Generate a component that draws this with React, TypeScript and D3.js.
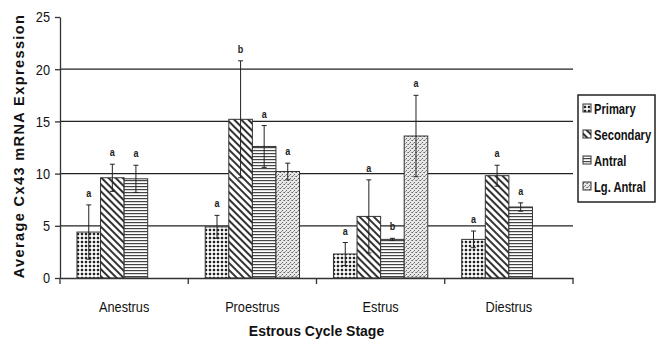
import React, { useEffect, useRef } from "react";
import * as d3 from "d3";

// Data
const stages = ["Anestrus", "Proestrus", "Estrus", "Diestrus"];
const follicles = ["Primary", "Secondary", "Antral", "Lg. Antral"];
// mean values per stage, in follicle order (null = not measured)
const means: (number | null)[][] = [
  [4.4, 9.6, 9.5, null],
  [4.9, 15.2, 12.6, 10.2],
  [2.3, 5.9, 3.7, 13.6],
  [3.7, 9.8, 6.8, null],
];
const errors: (number | null)[][] = [
  [2.6, 1.3, 1.3, null],
  [1.1, 5.6, 2.0, 0.8],
  [1.1, 3.5, 0.1, 3.9],
  [0.8, 1.0, 0.4, null],
];
const letters: (string | null)[][] = [
  ["a", "a", "a", null],
  ["a", "b", "a", "a"],
  ["a", "a", "b", "a"],
  ["a", "a", "a", null],
];
const yTicks = [0, 5, 10, 15, 20, 25];
const gridValues = [5, 10, 15, 20];

export default function App() {
  const ref = useRef<SVGSVGElement | null>(null);

  useEffect(() => {
    document.body.style.margin = "0";
    const node = ref.current;
    if (!node) return;
    node.innerHTML = "";

    const width = 659;
    const height = 340;
    const margin = { top: 17, right: 86, bottom: 62, left: 60 };
    const font = "'Liberation Sans', Arial, sans-serif";
    const narrow = 0.85; // reference text is a condensed face

    const svg = d3.select(node).attr("width", width).attr("height", height);

    // fill patterns
    const defs = svg.append("defs");
    const p1 = defs.append("pattern").attr("id", "pat-primary")
      .attr("patternUnits", "userSpaceOnUse").attr("width", 4).attr("height", 4);
    p1.append("rect").attr("width", 4).attr("height", 4).attr("fill", "#fff");
    p1.append("rect").attr("x", 0).attr("y", 1.5).attr("width", 4).attr("height", 1).attr("fill", "#aaa");
    p1.append("rect").attr("x", 1.5).attr("y", 0).attr("width", 1).attr("height", 4).attr("fill", "#aaa");
    p1.append("rect").attr("x", 1).attr("y", 1).attr("width", 2).attr("height", 2).attr("fill", "#222");

    const p2 = defs.append("pattern").attr("id", "pat-secondary")
      .attr("patternUnits", "userSpaceOnUse").attr("width", 5).attr("height", 5)
      .attr("patternTransform", "rotate(-45)");
    p2.append("rect").attr("width", 5).attr("height", 5).attr("fill", "#fff");
    p2.append("rect").attr("x", 0).attr("y", 0).attr("width", 2).attr("height", 5).attr("fill", "#333");

    const p3 = defs.append("pattern").attr("id", "pat-antral")
      .attr("patternUnits", "userSpaceOnUse").attr("width", 4).attr("height", 3);
    p3.append("rect").attr("width", 4).attr("height", 3).attr("fill", "#fff");
    p3.append("rect").attr("x", 0).attr("y", 0).attr("width", 4).attr("height", 1.2).attr("fill", "#444");

    const p4 = defs.append("pattern").attr("id", "pat-lg")
      .attr("patternUnits", "userSpaceOnUse").attr("width", 4).attr("height", 4);
    p4.append("rect").attr("width", 4).attr("height", 4).attr("fill", "#e8e8e8");
    p4.append("rect").attr("x", 0).attr("y", 0).attr("width", 1).attr("height", 1).attr("fill", "#666");
    p4.append("rect").attr("x", 2).attr("y", 2).attr("width", 1).attr("height", 1).attr("fill", "#666");
    p4.append("rect").attr("x", 3).attr("y", 0).attr("width", 1).attr("height", 1).attr("fill", "#999");
    p4.append("rect").attr("x", 1).attr("y", 3).attr("width", 1).attr("height", 1).attr("fill", "#999");
    const fills = ["url(#pat-primary)", "url(#pat-secondary)", "url(#pat-antral)", "url(#pat-lg)"];

    const x = d3.scaleBand().domain(stages).range([margin.left, width - margin.right]).paddingInner(0).paddingOuter(0);
    const xs = d3.scaleBand().domain(follicles).range([0, x.bandwidth()]).paddingOuter(0.72);
    const y = d3.scaleLinear().domain([0, 25]).range([height - margin.bottom, margin.top]);

    // grid
    svg.append("g").selectAll("line").data(gridValues).join("line")
      .attr("x1", margin.left).attr("x2", width - margin.right)
      .attr("y1", d => y(d)).attr("y2", d => y(d))
      .attr("stroke", "#222").attr("stroke-width", 1.3);

    // bars
    const rows = stages.flatMap((s, i) => follicles.map((f, j) => ({
      stage: s, follicle: f, j, mean: means[i][j], err: errors[i][j], letter: letters[i][j],
    }))).filter(d => d.mean !== null);

    const g = svg.append("g");
    g.selectAll("rect").data(rows).join("rect")
      .attr("x", d => x(d.stage)! + xs(d.follicle)!)
      .attr("width", xs.bandwidth())
      .attr("y", d => y(d.mean!))
      .attr("height", d => y(0) - y(d.mean!))
      .attr("fill", d => fills[d.j])
      .attr("stroke", "#333").attr("stroke-width", 1);

    // error bars
    const cx = (d: any) => x(d.stage)! + xs(d.follicle)! + xs.bandwidth() / 2;
    const eg = svg.append("g").attr("stroke", "#222").attr("stroke-width", 1);
    rows.forEach(d => {
      const hi = y(d.mean! + d.err!);
      const lo = y(d.mean! - d.err!);
      eg.append("line").attr("x1", cx(d)).attr("x2", cx(d)).attr("y1", hi).attr("y2", lo);
      eg.append("line").attr("x1", cx(d) - 2.5).attr("x2", cx(d) + 2.5).attr("y1", hi).attr("y2", hi);
      eg.append("line").attr("x1", cx(d) - 2.5).attr("x2", cx(d) + 2.5).attr("y1", lo).attr("y2", lo);
    });

    // significance letters
    svg.append("g").selectAll("text").data(rows).join("text")
      .attr("transform", d => `translate(${cx(d)},${y(d.mean! + d.err!) - 8}) scale(0.9,1.1)`)
      .attr("text-anchor", "middle")
      .attr("font-family", font).attr("font-weight", "bold").attr("font-size", 10)
      .attr("fill", "#222")
      .text(d => d.letter ?? "");

    // y axis
    const yAxis = svg.append("g").attr("transform", `translate(${margin.left},0)`)
      .call(d3.axisLeft(y).tickValues(yTicks).tickSize(5).tickSizeOuter(0));
    yAxis.select(".domain").attr("stroke", "#333").attr("stroke-width", 1.3);
    yAxis.selectAll(".tick line").attr("stroke", "#333").attr("stroke-width", 1.3);
    yAxis.selectAll(".tick text").attr("font-family", font).attr("font-size", 15)
      .attr("fill", "#111").attr("x", -10 / narrow).attr("transform", `scale(${narrow},1)`);

    // x axis
    const xAxis = svg.append("g").attr("transform", `translate(0,${y(0)})`)
      .call(d3.axisBottom(x).tickSize(0).tickSizeOuter(0));
    xAxis.select(".domain").attr("stroke", "#333").attr("stroke-width", 1.3);
    xAxis.selectAll(".tick text").attr("font-family", font).attr("font-size", 15)
      .attr("fill", "#111").attr("dy", 0).attr("y", 34).attr("transform", `scale(${narrow},1)`);
    // boundary tick marks between categories
    const bounds = stages.map(s => x(s)!).concat([width - margin.right]);
    svg.append("g").selectAll("line").data(bounds).join("line")
      .attr("x1", d => d).attr("x2", d => d)
      .attr("y1", y(0)).attr("y2", y(0) + 6)
      .attr("stroke", "#333").attr("stroke-width", 1.3);

    // axis titles
    svg.append("text")
      .attr("x", (margin.left + width - margin.right) / 2)
      .attr("y", 336)
      .attr("text-anchor", "middle")
      .attr("font-family", font).attr("font-weight", "bold").attr("font-size", 14)
      .attr("fill", "#111")
      .text("Estrous Cycle Stage");
    svg.append("text")
      .attr("transform", `translate(24,${(y(0) + 10) / 2 + 2}) rotate(-90)`)
      .attr("text-anchor", "middle")
      .attr("font-family", font).attr("font-weight", "bold").attr("font-size", 14.5)
      .attr("letter-spacing", 1.4)
      .attr("fill", "#111")
      .text("Average Cx43 mRNA Expression");

    // legend
    const lg = svg.append("g").attr("transform", "translate(578,95)");
    lg.append("rect").attr("width", 77).attr("height", 107)
      .attr("fill", "#fff").attr("stroke", "#222").attr("stroke-width", 1.5);
    follicles.forEach((f, i) => {
      const row = lg.append("g").attr("transform", `translate(5,${14 + i * 26})`);
      row.append("rect").attr("x", 0).attr("y", -5).attr("width", 8).attr("height", 8)
        .attr("fill", fills[i]).attr("stroke", "#333").attr("stroke-width", 1);
      row.append("text").attr("transform", `translate(11,0) scale(0.8,1)`).attr("dy", "0.35em")
        .attr("font-family", font).attr("font-weight", "bold").attr("font-size", 14).attr("fill", "#111")
        .text(f);
    });
  }, []);

  return <svg ref={ref} style={{ display: "block" }} />;
}
